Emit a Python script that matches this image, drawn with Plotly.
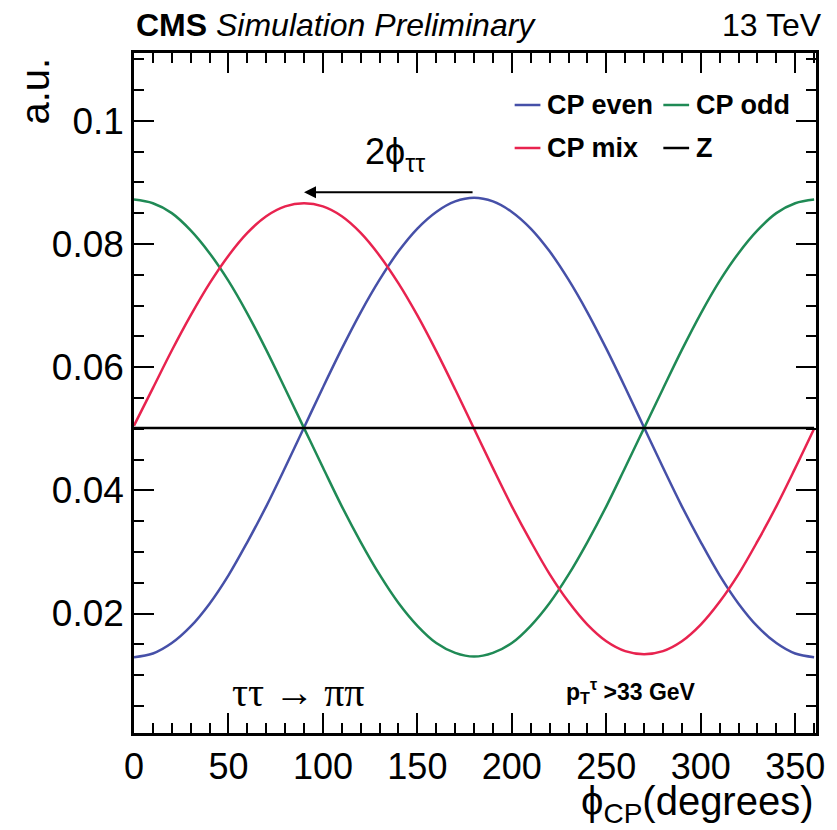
import plotly.graph_objects as go

# phi_CP sample points (degrees)
phi = [0, 10, 20, 30, 40, 50, 60, 70, 80, 90, 100, 110, 120, 130, 140, 150, 160, 170, 180,
       190, 200, 210, 220, 230, 240, 250, 260, 270, 280, 290, 300, 310, 320, 330, 340, 350, 360]

cp_even = [0.0129, 0.0135, 0.0152, 0.0179, 0.0216, 0.0262, 0.0316, 0.0374, 0.0437, 0.0502,
           0.0567, 0.0630, 0.0689, 0.0742, 0.0788, 0.0825, 0.0852, 0.0869, 0.0875,
           0.0869, 0.0852, 0.0825, 0.0788, 0.0742, 0.0689, 0.0630, 0.0567, 0.0502,
           0.0437, 0.0374, 0.0316, 0.0262, 0.0216, 0.0179, 0.0152, 0.0135, 0.0129]

cp_odd = [0.0872, 0.0866, 0.0850, 0.0822, 0.0785, 0.0740, 0.0687, 0.0628, 0.0565, 0.0501,
          0.0437, 0.0374, 0.0316, 0.0263, 0.0217, 0.0180, 0.0152, 0.0136, 0.0130,
          0.0136, 0.0152, 0.0180, 0.0217, 0.0263, 0.0316, 0.0374, 0.0437, 0.0501,
          0.0565, 0.0628, 0.0687, 0.0740, 0.0785, 0.0822, 0.0850, 0.0866, 0.0872]

cp_mix = [0.0505, 0.0566, 0.0627, 0.0684, 0.0736, 0.0781, 0.0818, 0.0845, 0.0861, 0.0866,
          0.0861, 0.0845, 0.0818, 0.0781, 0.0736, 0.0684, 0.0626, 0.0564, 0.0500,
          0.0436, 0.0374, 0.0317, 0.0264, 0.0219, 0.0182, 0.0155, 0.0139, 0.0134,
          0.0139, 0.0155, 0.0182, 0.0219, 0.0264, 0.0317, 0.0374, 0.0436, 0.0500]

z_flat = [0.0501] * len(phi)

series_names = ["CP even", "CP odd", "CP mix", "Z"]
series_vals = [cp_even, cp_odd, cp_mix, z_flat]
colors = ["#4650A8", "#1F8A55", "#E8234F", "#000000"]

fig = go.Figure()
for name, vals, col in zip(series_names, series_vals, colors):
    fig.add_trace(go.Scatter(x=phi, y=vals, mode="lines", name=name,
                             line=dict(color=col, width=2.5, shape="spline"),
                             showlegend=False))

FONT = "Liberation Sans, Arial, Helvetica, sans-serif"
SERIF = "Liberation Serif, Times New Roman, serif"

axis_common = dict(
    showgrid=False, zeroline=False, showline=True, linecolor="black", linewidth=2.5,
    mirror="allticks", ticks="inside", ticklen=20, tickwidth=2, tickcolor="black",
)

fig.update_xaxes(range=[0, 361], dtick=50, tick0=0,
                 tickfont=dict(family=FONT, size=36, color="black"),
                 minor=dict(dtick=10, ticks="inside", ticklen=10, tickwidth=2, tickcolor="black"),
                 **axis_common)
fig.update_yaxes(range=[0.0006, 0.111], dtick=0.02, tick0=0,
                 tickfont=dict(family=FONT, size=37, color="black"),
                 minor=dict(dtick=0.005, ticks="inside", ticklen=10, tickwidth=2, tickcolor="black"),
                 **axis_common)

fig.update_layout(
    width=837, height=830,
    margin=dict(l=134, r=15, t=53, b=97),
    plot_bgcolor="white", paper_bgcolor="white",
    font=dict(family=FONT, color="black"),
)

# Legend (manual, 2x2)
leg = [("CP even", colors[0], 518, 105), ("CP odd", colors[1], 668, 105),
       ("CP mix", colors[2], 518, 148), ("Z", colors[3], 668, 148)]
for txt, col, px, py in leg:
    fig.add_shape(type="line", xref="paper", yref="paper",
                  x0=(px - 134) / 688, x1=(px + 26 - 134) / 688,
                  y0=(733 - py) / 680, y1=(733 - py) / 680,
                  line=dict(color=col, width=2.5))
    fig.add_annotation(xref="paper", yref="paper", x=(px + 31 - 134) / 688, y=(733 - py) / 680,
                       text="<b>%s</b>" % txt, showarrow=False, xanchor="left", yanchor="middle",
                       font=dict(family=FONT, size=27, color="black"))

# Header texts
fig.add_annotation(xref="paper", yref="paper", x=0, y=1.0, yshift=8, xanchor="left", yanchor="bottom",
                   text="<b>CMS</b> <i>Simulation Preliminary</i>", showarrow=False,
                   font=dict(family=FONT, size=32, color="black"))
fig.add_annotation(xref="paper", yref="paper", x=1.0, xshift=8, y=1.0, yshift=8, xanchor="right",
                   yanchor="bottom", text="13 TeV", showarrow=False,
                   font=dict(family=FONT, size=32, color="black"))

# Axis titles
fig.add_annotation(xref="paper", yref="paper", x=1.0, y=0, yshift=-44, xanchor="right", yanchor="top",
                   text="ϕ<sub>CP</sub>(degrees)", showarrow=False,
                   font=dict(family=FONT, size=40, color="black"))
fig.add_annotation(xref="paper", yref="paper", x=0, xshift=-100, y=1.0, yshift=-3,
                   xanchor="center", yanchor="top", textangle=-90,
                   text="a.u.", showarrow=False,
                   font=dict(family=FONT, size=40, color="black"))

# Arrow 2phi_tautau
fig.add_annotation(x=90, y=0.0884, ax=180, ay=0.0884, xref="x", yref="y", axref="x", ayref="y",
                   text="", showarrow=True, arrowhead=2, arrowsize=1.2, arrowwidth=2, arrowcolor="black")
fig.add_annotation(x=138, y=0.0905, xref="x", yref="y", text="2ϕ<sub>ττ</sub>", showarrow=False,
                   xanchor="center", yanchor="bottom",
                   font=dict(family=FONT, size=36, color="black"))

# Process labels
fig.add_annotation(x=87, y=0.0072, xref="x", yref="y", text="ττ → ππ", showarrow=False,
                   xanchor="center", yanchor="middle",
                   font=dict(family=SERIF, size=40, color="black"))
fig.add_annotation(x=263, y=0.0075, xref="x", yref="y",
                   text="<b>p<sub>T</sub><sup>τ</sup> >33 GeV</b>", showarrow=False,
                   xanchor="center", yanchor="middle",
                   font=dict(family=FONT, size=23, color="black"))

fig.write_html("out.html")
